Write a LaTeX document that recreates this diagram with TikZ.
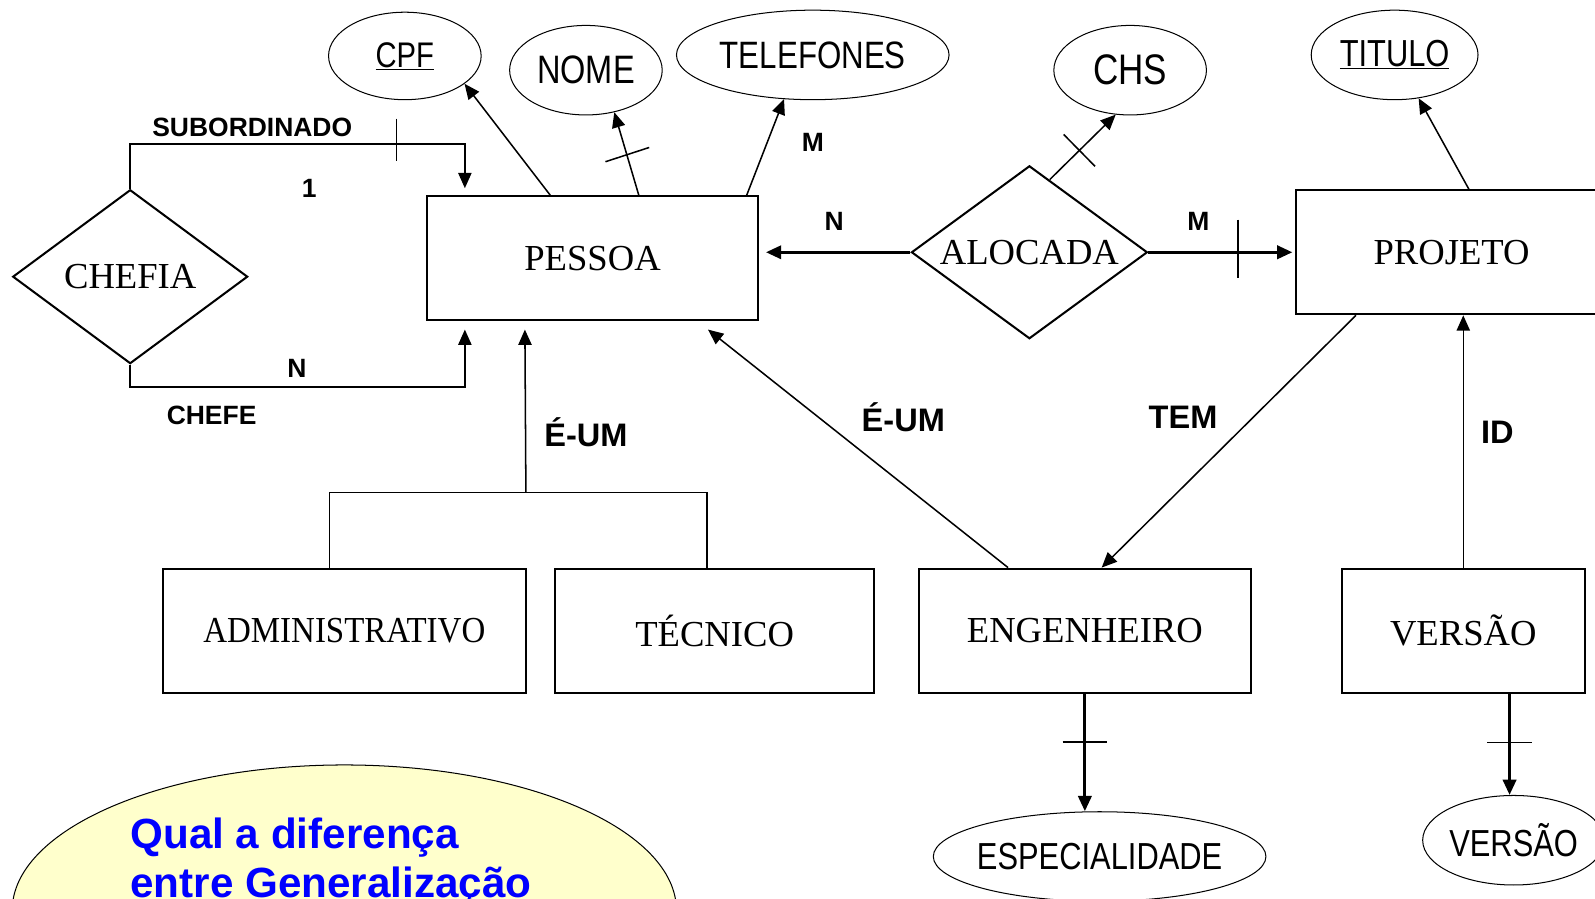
\documentclass[tikz,border=0pt]{standalone}
\usepackage{fontspec}
\usepackage{graphicx}
\setmainfont{Liberation Serif}
\setsansfont{Liberation Sans}
\newfontfamily\attrfont[FakeStretch=0.82]{Liberation Sans}
\usetikzlibrary{shapes.geometric,arrows.meta,calc}
\definecolor{amarelo}{HTML}{FFFFCC}
\begin{document}
\begin{tikzpicture}[x=1pt,y=-1pt,>={Triangle[length=15pt,width=13pt]}]
	\tikzset{
		entidade/.style={draw,line width=2pt,minimum height=122pt,inner sep=0pt,font=\fontsize{36}{40}\selectfont},
		relacao/.style={draw,diamond,aspect=1.35,line width=2pt,inner sep=0pt,font=\fontsize{36}{40}\selectfont},
		atributo/.style={draw,ellipse,line width=1pt,inner sep=0pt,minimum height=88pt},
		attr/.style={font=\attrfont\fontsize{#1}{40}\selectfont},
		rotulo/.style={inner sep=0pt,font=\sffamily\bfseries\fontsize{26}{28}\selectfont},
		rotulogrande/.style={inner sep=0pt,font=\sffamily\bfseries\fontsize{32}{34}\selectfont},
		liga/.style={line width=1.5pt},
		grossa/.style={line width=3pt},
		corte/.style={line width=1.5pt}
	}
	\useasboundingbox (0,0) rectangle (1568,883);
	\clip (0,0) rectangle (1568,883);
	% entidades
	\node[entidade,minimum width=325pt] (pessoa) at (582.5,254) {PESSOA};
	\node[entidade,minimum width=305pt] (projeto) at (1427,248) {PROJETO};
	\node[entidade,minimum width=357pt] (admin) at (338.5,620) {\scalebox{0.9}[1]{ADMINISTRATIVO}};
	\node[entidade,minimum width=313pt] (tecnico) at (702.5,620) {TÉCNICO};
	\node[entidade,minimum width=327pt] (engenheiro) at (1066.5,620) {ENGENHEIRO};
	\node[entidade,minimum width=239pt] (versao) at (1438.5,620) {VERSÃO};
	% relacionamentos
	\node[relacao,minimum width=231pt,minimum height=171pt] (chefia) at (128,272) {CHEFIA};
	\node[relacao,minimum width=232pt,minimum height=170pt] (alocada) at (1012,248) {ALOCADA};
	% atributos
	\node[atributo,attr=35,minimum width=150pt,minimum height=86pt] (cpf) at (398,55) {\underline{CPF}};
	\node[atributo,attr=39,minimum width=150pt] (nome) at (576,69) {NOME};
	\node[atributo,attr=37.5,minimum width=268pt] (telefones) at (799,54) {TELEFONES};
	\node[atributo,attr=42,minimum width=150pt] (chs) at (1111,69) {CHS};
	\node[atributo,attr=37,minimum width=164pt] (titulo) at (1371,54) {\underline{TITULO}};
	\node[atributo,attr=37,minimum width=327pt] (especialidade) at (1081,842) {\makebox[200pt]{ESPECIALIDADE}};
	\node[atributo,attr=37,minimum width=160pt] (versaoattr) at (1488,826) {VERSÃO};
	% pergunta
	\node[draw,ellipse,fill=amarelo,line width=1pt,minimum width=653pt,minimum height=286pt] (duvida) at (338.5,895) {};
	\node[anchor=base west,align=left,inner sep=0pt,text=blue,font=\sffamily\bfseries\fontsize{41.5}{48}\selectfont] (duvidatexto) at (128,882) {Qual a diferença\\entre Generalização};
	% CHEFIA
	\draw[liga,->] (chefia.north) -- ++(0,-44) coordinate (sub) -| ([xshift=38pt,yshift=7pt]pessoa.north west);
	\draw[corte] ($(sub)+(262,-25)$) -- ($(sub)+(262,17)$);
	\draw[liga,->] (chefia.south) -- ++(0,22) -| ([xshift=38pt,yshift=-8pt]pessoa.south west);
	\node[rotulo] (lsub) at (248,125) {SUBORDINADO};
	\node[rotulo] (lum) at (304,185) {1};
	\node[rotulo] (lene) at (292,362) {N};
	\node[rotulo] (lchefe) at (208,408) {CHEFE};
	% atributos de PESSOA
	\draw[liga,->] ([xshift=122pt]pessoa.north west) -- (cpf.335);
	\draw[liga,->] ([xshift=209pt]pessoa.north west) -- coordinate[pos=0.49] (mnome) (nome.304);
	\draw[corte] ($(mnome)+(-21,7)$) -- ($(mnome)+(22,-7)$);
	\draw[liga,->] ([xshift=315pt]pessoa.north west) -- (telefones.237);
	\node[rotulo] (lm) at (799,140) {M};
	% ALOCADA
	\draw[grossa,->] (alocada.west) -- ([xshift=7pt]alocada.west -| pessoa.east);
	\draw[grossa,->] (alocada.east) -- ([xshift=-3pt]alocada.east -| projeto.west);
	\draw[corte] ($(alocada.east)+(88,-32)$) -- ($(alocada.east)+(88,25)$);
	\node[rotulo] (lnaloc) at (820,218) {N};
	\node[rotulo] (lmaloc) at (1178,218) {M};
	\draw[liga,->] ($(alocada.north)!0.17!(alocada.east)$) -- coordinate[pos=0.45] (mchs) (chs.252);
	\draw[corte] ($(mchs)!22pt!90:(chs.252)$) -- ($(mchs)!22pt!-90:(chs.252)$);
	\draw[liga,->] ([xshift=170.5pt]projeto.north west) -- (titulo.299);
	% E-UM
	\draw[liga] ([xshift=-14.5pt]admin.north) -- ++(0,-74) -| ([xshift=-7.5pt]tecnico.north);
	\draw[liga,->] ([xshift=178.5pt,yshift=74pt]admin.north) -- ([xshift=97pt,yshift=-8pt]pessoa.south west);
	\node[rotulogrande] (leum) at (576,425) {É-UM};
	\draw[liga,->] ([xshift=89pt]engenheiro.north west) -- ([xshift=277pt,yshift=-8pt]pessoa.south west);
	\node[rotulogrande] (leumeng) at (888,410) {É-UM};
	% TEM e ID
	\draw[liga,->] ([xshift=59.5pt]projeto.south west) -- ([xshift=181pt]engenheiro.north west);
	\node[rotulogrande] (ltem) at (1163,410) {TEM};
	\draw[liga,->] (versao.north) -- (versao.north |- projeto.south);
	\node[rotulogrande] (lid) at (1472,425) {ID};
	% atributos de ENGENHEIRO e VERSAO
	\draw[grossa,->] (engenheiro.south) -- coordinate[pos=0.41] (mesp) (engenheiro.south |- especialidade.north);
	\draw[corte] ($(mesp)+(-22,0)$) -- ($(mesp)+(22,0)$);
	\draw[grossa,->] ([xshift=45.5pt]versao.south) -- coordinate[pos=0.48] (mver) ([xshift=45.5pt]versao.south |- versaoattr.north);
	\draw[corte] ($(mver)+(-22,0)$) -- ($(mver)+(22,0)$);
\end{tikzpicture}
\end{document}
